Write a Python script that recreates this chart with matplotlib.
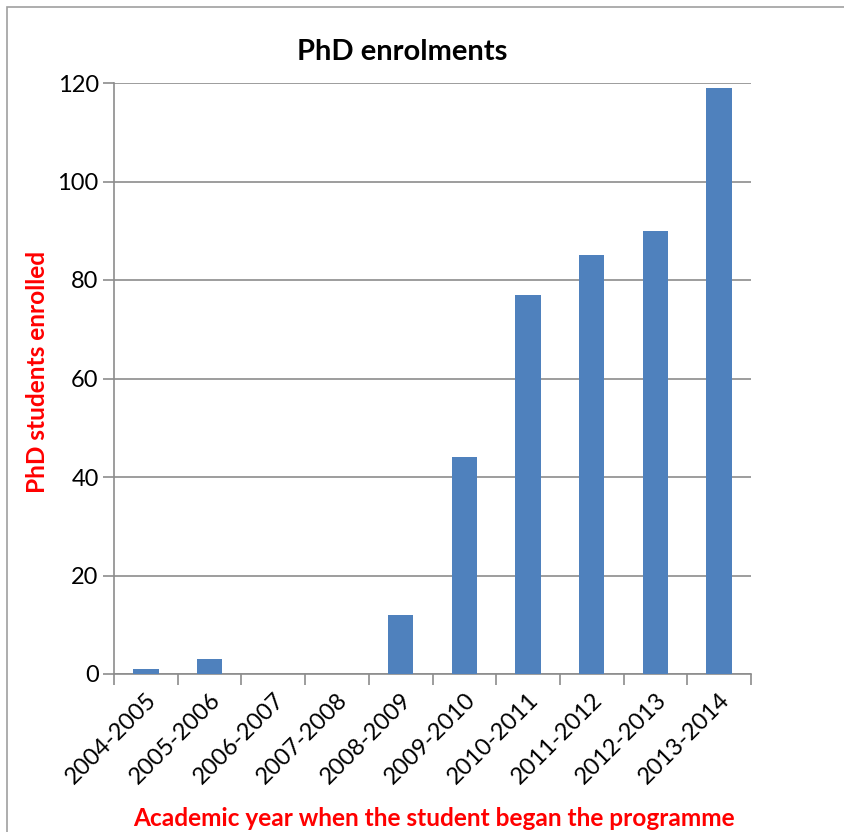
import numpy as np
import matplotlib.pyplot as plt
from matplotlib.patches import Rectangle

years = ["2004-2005", "2005-2006", "2006-2007", "2007-2008", "2008-2009",
         "2009-2010", "2010-2011", "2011-2012", "2012-2013", "2013-2014"]
enrolled = [1, 3, 0, 0, 12, 44, 77, 85, 90, 119]

plt.rcParams['font.family'] = ['Lato', 'DejaVu Sans']

fig = plt.figure(figsize=(8.45, 8.32), dpi=100)
ax = fig.add_axes([114 / 845, 1 - 674 / 832, (751 - 114) / 845, (674 - 83) / 832])

x = np.arange(len(years))
ax.bar(x, enrolled, width=0.4, color="#4f81bd", zorder=3)

ax.set_xlim(-0.5, len(years) - 0.5)
ax.set_ylim(0, 120)
ax.set_yticks(range(0, 121, 20))
ax.yaxis.grid(True, color="#8c8c8c", linewidth=1.2, zorder=0)

ax.set_xticks(x)
ax.set_xticklabels(years, rotation=45, ha="right", rotation_mode="anchor", fontsize=17)
ax.set_xticks(np.arange(-0.5, len(years)), minor=True)
ax.tick_params(axis="x", which="major", length=0, pad=11)
ax.tick_params(axis="x", which="minor", length=8, width=1.2, color="#8c8c8c")
ax.tick_params(axis="y", length=8, width=1.2, color="#8c8c8c", labelsize=17, pad=3)

for side in ["top", "right"]:
    ax.spines[side].set_visible(False)
for side in ["left", "bottom"]:
    ax.spines[side].set_color("#8c8c8c")
    ax.spines[side].set_linewidth(1.2)

fig.text(402 / 845, 1 - 52 / 832, "PhD enrolments", ha="center", va="center",
         fontsize=21, fontweight="bold")
fig.text(434 / 845, 1 - 818 / 832, "Academic year when the student began the programme",
         ha="center", va="center", fontsize=17.6, fontweight="bold", color="red")
fig.text(38 / 845, 1 - 372 / 832, "PhD students enrolled", ha="center", va="center",
         rotation=90, fontsize=17.6, fontweight="bold", color="red")

fig.patches.append(Rectangle((7 / 845, -0.01), 1.0, 1 - 7 / 832 + 0.01,
                             transform=fig.transFigure, fill=False,
                             edgecolor="#a0a0a0", linewidth=1.2))

fig.savefig("out.png", dpi=100)
